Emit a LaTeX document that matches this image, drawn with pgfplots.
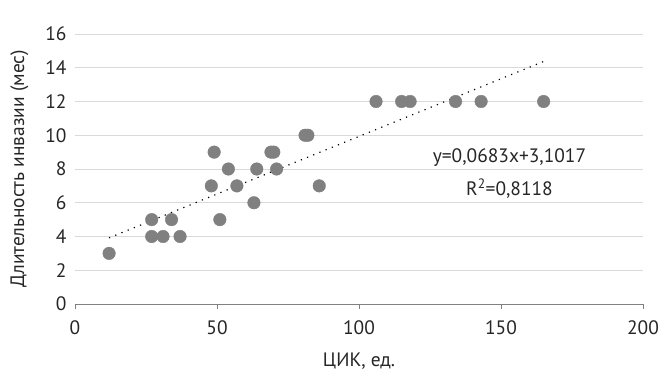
\documentclass[border=0pt]{standalone}
\usepackage{pgfplots}
\pgfplotsset{compat=1.18}
\usepackage{fontspec}
\setmainfont{PT Sans}
\begin{document}
\begin{tikzpicture}[x=1bp,y=1bp]
\begin{axis}[
  scale only axis,
  width=568bp, height=270bp,
  xmin=0, xmax=200, ymin=0, ymax=16,
  xtick={0,50,...,200}, ytick={0,2,...,16},
  axis x line*=bottom,
  axis y line*=left,
  x axis line style={draw=black!50, -},
  y axis line style={draw=none},
  ymajorgrids, grid style={draw=black!15, line width=0.8pt},
  xtick style={draw=black!50, line width=0.6pt},
  major tick length=5bp,
  tick align=outside,
  ytick style={draw=none},
  /pgf/number format/assume math mode=true,
  ticklabel style={font=\fontsize{19.5}{22}\selectfont, text=black!85},
  xticklabel style={yshift=-8bp},
  yticklabel style={xshift=0bp},
  xlabel={ЦИК, ед.},
  ylabel={Длительность инвазии (мес)},
  label style={font=\fontsize{19.5}{22}\selectfont, text=black!85},
  xlabel style={yshift=-11bp},
  ylabel style={yshift=10bp},
  clip=false,
]
\addplot[only marks, mark=*, mark size=6.3bp, color=black!50, mark options={draw=none, fill=black!50}] coordinates {
(12,3) (27,5) (27,4) (31,4) (34,5) (37,4)
(48,7) (49,9) (51,5) (54,8) (57,7) (63,6) (64,8)
(69,9) (70,9) (71,8) (81,10) (82,10) (86,7)
(106,12) (115,12) (118,12) (134,12) (143,12) (165,12)
};
\addplot[black, line width=1.2pt, dash pattern=on 1.2pt off 5.5pt] coordinates {(12,3.921) (165,14.371)};
\node[font=\fontsize{19.5}{22}\selectfont, text=black!85] at (axis cs:153,8.7) {y=0,0683x+3,1017};
\node[font=\fontsize{19.5}{22}\selectfont, text=black!85] at (axis cs:153,6.85) {R\textsuperscript{2}=0,8118};
\path (rel axis cs:0,0) -- ++(-75bp,-80bp);
\path (rel axis cs:1,1) -- ++(23bp,34bp);
\end{axis}
\end{tikzpicture}
\end{document}
